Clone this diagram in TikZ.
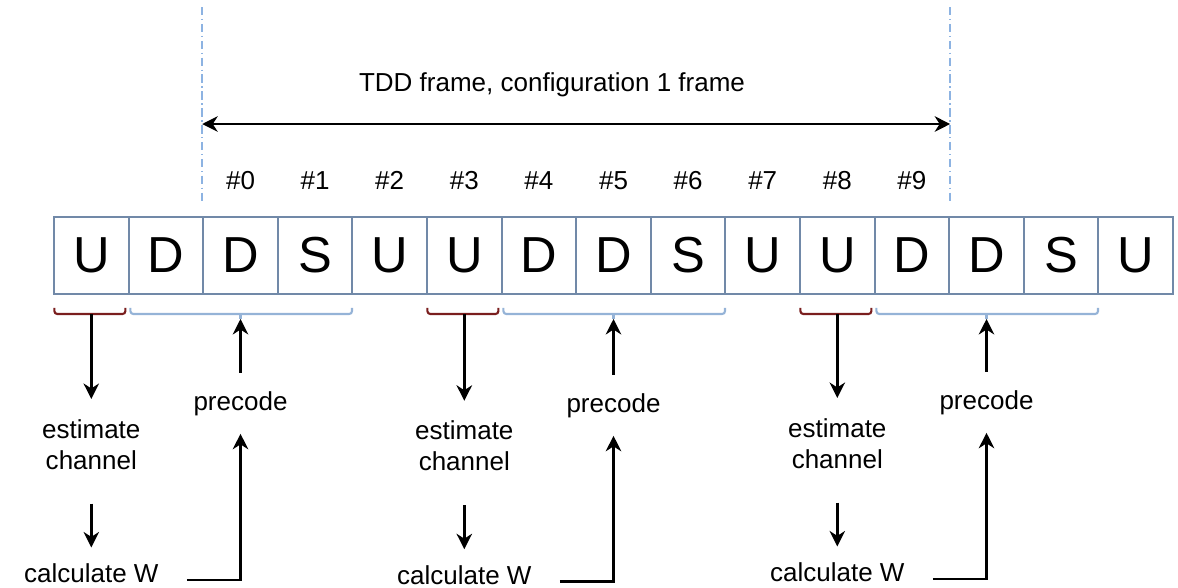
\documentclass[tikz,border=0pt]{standalone}
\usepackage{fontspec}
\setmainfont{Liberation Sans}
\usetikzlibrary{positioning, arrows.meta}
\definecolor{slotline}{HTML}{7189A8}
\definecolor{ulbrace}{HTML}{7A1E1E}
\definecolor{dlbrace}{HTML}{95B3D7}
\definecolor{guide}{HTML}{8DB3E2}

\begin{document}
\begin{tikzpicture}[node distance=1.865cm, on grid, >={Stealth[length=11pt, width=11pt, inset=3.5pt]}]
    \tikzset{
        slot/.style={draw=slotline, line width=1.4pt, minimum width=1.865cm, minimum height=1.925cm, inner sep=0pt, font=\fontsize{36}{40}\selectfont},
        num/.style={font=\fontsize{18.5}{22}\selectfont},
        lbl/.style={font=\fontsize{18.5}{22}\selectfont, align=center, inner sep=0pt},
        ubr/.style={draw=ulbrace, line width=1.5pt, rounded corners=2pt},
        dbr/.style={draw=dlbrace, line width=1.5pt, rounded corners=2pt},
        arr/.style={->, line width=1.8pt},
        guideline/.style={draw=guide, line width=1.1pt, dash pattern=on 6pt off 2.5pt on 1pt off 2.5pt}
    }
    \useasboundingbox (0,0) rectangle (29.45,-14.7);

    % SLOTS
    \node[slot] (s0) at (2.2825,-6.3875) {U};
    \node[slot] (s1) [right=of s0] {D};
    \node[slot] (s2) [right=of s1] {D};
    \node[slot] (s3) [right=of s2] {S};
    \node[slot] (s4) [right=of s3] {U};
    \node[slot] (s5) [right=of s4] {U};
    \node[slot] (s6) [right=of s5] {D};
    \node[slot] (s7) [right=of s6] {D};
    \node[slot] (s8) [right=of s7] {S};
    \node[slot] (s9) [right=of s8] {U};
    \node[slot] (s10) [right=of s9] {U};
    \node[slot] (s11) [right=of s10] {D};
    \node[slot] (s12) [right=of s11] {D};
    \node[slot] (s13) [right=of s12] {S};
    \node[slot] (s14) [right=of s13] {U};

    % SUBFRAME NUMBERS
    \node[num] (n0) [above=1.875cm of s2] {\#0};
    \node[num] (n1) [above=1.875cm of s3] {\#1};
    \node[num] (n2) [above=1.875cm of s4] {\#2};
    \node[num] (n3) [above=1.875cm of s5] {\#3};
    \node[num] (n4) [above=1.875cm of s6] {\#4};
    \node[num] (n5) [above=1.875cm of s7] {\#5};
    \node[num] (n6) [above=1.875cm of s8] {\#6};
    \node[num] (n7) [above=1.875cm of s9] {\#7};
    \node[num] (n8) [above=1.875cm of s10] {\#8};
    \node[num] (n9) [above=1.875cm of s11] {\#9};

    % FRAME LIMITS
    \coordinate (gltop) at ([yshift=5.225cm]s2.north west);
    \coordinate (glbot) at ([yshift=0.3cm]s2.north west);
    \coordinate (grtop) at ([yshift=5.225cm]s11.north east);
    \coordinate (grbot) at ([yshift=0.3cm]s11.north east);
    \coordinate (fl) at ([yshift=2.3cm]s2.north west);
    \coordinate (fr) at ([yshift=2.3cm]s11.north east);
    \draw[guideline] (gltop) -- (glbot);
    \draw[guideline] (grtop) -- (grbot);
    \draw[<->, line width=1.8pt] (fl) -- (fr);
    \node[num] (title) at (13.8,-2.125) {TDD frame, configuration 1 frame};

    % BRACES
    \draw[ubr] ([xshift=1pt]s0.south west) ++(0,-0.325) -- ++(0,-0.15) -| ([xshift=-3pt, yshift=-0.325cm]s0.south east);
    \draw[dbr] ([xshift=2pt]s1.south west) ++(0,-0.325) -- ++(0,-0.15) -| ([xshift=-1pt, yshift=-0.325cm]s3.south east);
    \draw[ubr] ([xshift=1pt]s5.south west) ++(0,-0.325) -- ++(0,-0.15) -| ([xshift=-3pt, yshift=-0.325cm]s5.south east);
    \draw[dbr] ([xshift=2pt]s6.south west) ++(0,-0.325) -- ++(0,-0.15) -| ([xshift=-1pt, yshift=-0.325cm]s8.south east);
    \draw[ubr] ([xshift=1pt]s10.south west) ++(0,-0.325) -- ++(0,-0.15) -| ([xshift=-3pt, yshift=-0.325cm]s10.south east);
    \draw[dbr] ([xshift=2pt]s11.south west) ++(0,-0.325) -- ++(0,-0.15) -| ([xshift=-1pt, yshift=-0.325cm]s13.south east);

    \coordinate (ra) at ([yshift=-0.475cm]s0.south);
    \coordinate (rb) at ([yshift=-0.475cm]s5.south);
    \coordinate (rc) at ([yshift=-0.475cm]s10.south);
    \coordinate (ba) at ([yshift=-0.475cm]s2.south);
    \coordinate (bb) at ([yshift=-0.475cm]s7.south);
    \coordinate (bc) at ([yshift=-0.475cm]s12.south);
    \coordinate (bta) at ([yshift=-0.6cm]s2.south);
    \coordinate (btb) at ([yshift=-0.6cm]s7.south);
    \coordinate (btc) at ([yshift=-0.6cm]s12.south);
    \draw[ubr] (ra) -- ++(0,-0.12);
    \draw[ubr] (rb) -- ++(0,-0.12);
    \draw[ubr] (rc) -- ++(0,-0.12);
    \draw[dbr] (ba) -- (bta);
    \draw[dbr] (bb) -- (btb);
    \draw[dbr] (bc) -- (btc);

    % STEPS
    \node[lbl] (esta) [below=2.625cm of ra] {estimate\\channel};
    \node[lbl] (calca) [below=3.225cm of esta] {calculate W};
    \node[lbl] (preca) [below=1.925cm of ba] {precode};
    \node[lbl] (estb) [below=2.67cm of rb] {estimate\\channel};
    \node[lbl] (calcb) [below=3.225cm of estb] {calculate W};
    \node[lbl] (precb) [below=1.975cm of bb] {precode};
    \node[lbl] (estc) [below=2.6cm of rc] {estimate\\channel};
    \node[lbl] (calcc) [below=3.225cm of estc] {calculate W};
    \node[lbl] (precc) [below=1.9cm of bc] {precode};

    % TRANSITIONS
    \path[arr]
        (ra) edge[shorten >=0.5cm] (esta)
        (esta) edge[shorten <=0.85cm, shorten >=0.4cm] (calca)
        (preca) edge[shorten <=0.45cm] (bta)
        (rb) edge[shorten >=0.5cm] (estb)
        (estb) edge[shorten <=0.85cm, shorten >=0.4cm] (calcb)
        (precb) edge[shorten <=0.45cm] (btb)
        (rc) edge[shorten >=0.5cm] (estc)
        (estc) edge[shorten <=0.85cm, shorten >=0.4cm] (calcc)
        (precc) edge[shorten <=0.45cm] (btc);

    \draw[arr, shorten <=0.7cm, shorten >=0.45cm] ([yshift=2pt]calca.base east) -| (preca);
    \draw[arr, shorten <=0.7cm, shorten >=0.45cm] ([yshift=2pt]calcb.base east) -| (precb);
    \draw[arr, shorten <=0.7cm, shorten >=0.45cm] ([yshift=2pt]calcc.base east) -| (precc);

\end{tikzpicture}
\end{document}
